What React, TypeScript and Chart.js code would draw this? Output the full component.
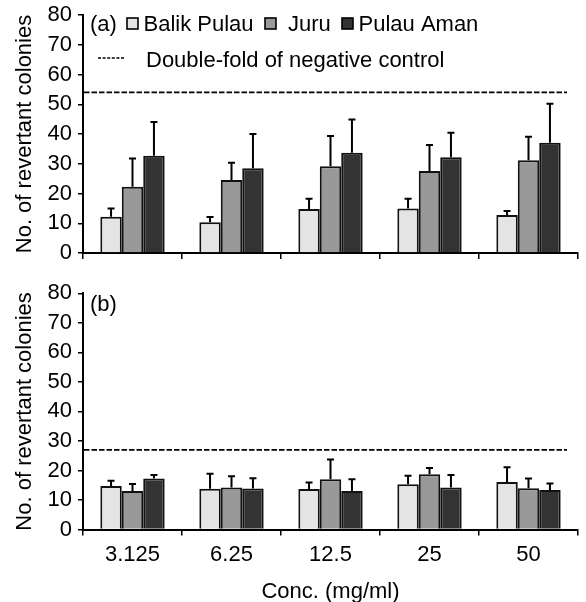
import React, { useEffect, useRef } from "react";
import { Chart, registerables } from "chart.js";

Chart.register(...registerables);

const FONT = "'Liberation Sans', Arial, Helvetica, sans-serif";

const categories = ["3.125", "6.25", "12.5", "25", "50"];
const seriesNames = ["Balik Pulau", "Juru", "Pulau Aman"];
const seriesColors = ["#e4e4e4", "#999999", "#333333"];

// Panel (a)
const aBalikPulau = [12.2, 10.3, 14.8, 15.0, 12.8];
const aBalikPulauSD = [2.8, 1.8, 3.4, 3.2, 1.3];
const aJuru = [22.3, 24.5, 29.2, 27.6, 31.2];
const aJuruSD = [9.5, 5.8, 10.1, 8.7, 7.9];
const aPulauAman = [32.7, 28.5, 33.7, 32.2, 37.1];
const aPulauAmanSD = [11.3, 11.5, 11.2, 8.2, 13.1];
const aThreshold = 54;

// Panel (b)
const bBalikPulau = [14.7, 13.8, 13.7, 15.3, 16.1];
const bBalikPulauSD = [1.8, 5.1, 2.2, 2.9, 5.0];
const bJuru = [13.0, 14.2, 17.0, 18.7, 14.0];
const bJuruSD = [2.4, 3.8, 6.7, 2.1, 3.3];
const bPulauAman = [17.3, 13.9, 13.0, 14.2, 13.4];
const bPulauAmanSD = [1.2, 3.5, 4.0, 4.3, 2.2];
const bThreshold = 27;

const yTicksMin = 0;
const yTicksMax = 80;
const yTickStep = 10;

const yTitle = "No. of revertant colonies";
const xTitle = "Conc. (mg/ml)";
const thresholdLabel = "Double-fold of negative control";

const errorBarPlugin = {
  id: "errorBars",
  afterDatasetsDraw(chart: any, _args: any, opts: any) {
    const { ctx } = chart;
    const y = chart.scales.y;
    const errs: number[][] = opts.errors || [];
    chart.data.datasets.forEach((ds: any, i: number) => {
      const meta = chart.getDatasetMeta(i);
      meta.data.forEach((bar: any, j: number) => {
        const v = ds.data[j];
        const e = errs[i] ? errs[i][j] : 0;
        const base = y.getPixelForValue(v);
        const top = y.getPixelForValue(v + e);
        ctx.save();
        ctx.strokeStyle = "#000";
        ctx.lineWidth = 2;
        ctx.beginPath();
        ctx.moveTo(bar.x, base);
        ctx.lineTo(bar.x, top);
        ctx.moveTo(bar.x - 3.5, top);
        ctx.lineTo(bar.x + 3.5, top);
        ctx.stroke();
        ctx.restore();
      });
    });
  },
};

const thresholdPlugin = {
  id: "threshold",
  afterDraw(chart: any, _args: any, opts: any) {
    const { ctx, chartArea } = chart;
    const y = chart.scales.y.getPixelForValue(opts.value);
    ctx.save();
    ctx.strokeStyle = "#000";
    ctx.lineWidth = 1.8;
    ctx.setLineDash([5.5, 2]);
    ctx.beginPath();
    ctx.moveTo(chartArea.left + 1, y);
    ctx.lineTo(chartArea.right - 11, y);
    ctx.stroke();
    ctx.restore();
  },
};

const panelLabelPlugin = {
  id: "panelLabel",
  afterDraw(chart: any, _args: any, opts: any) {
    const { ctx } = chart;
    ctx.save();
    ctx.fillStyle = "#000";
    ctx.font = `22px ${FONT}`;
    ctx.textBaseline = "alphabetic";
    ctx.textAlign = "left";
    ctx.fillText(opts.text, 90, opts.baseline);
    if (opts.legend) {
      const boxX = [127, 265, 342];
      const textX = [143.5, 288, 358.5];
      seriesNames.forEach((name, i) => {
        ctx.fillStyle = seriesColors[i];
        ctx.fillRect(boxX[i], 18, 11, 11);
        ctx.strokeStyle = "#000";
        ctx.lineWidth = 1.6;
        ctx.strokeRect(boxX[i], 18, 11, 11);
        ctx.fillStyle = "#000";
        ctx.fillText(name, textX[i], opts.baseline);
      });
      ctx.strokeStyle = "#000";
      ctx.lineWidth = 1.5;
      ctx.setLineDash([3, 1.6]);
      ctx.beginPath();
      ctx.moveTo(98, 58);
      ctx.lineTo(125, 58);
      ctx.stroke();
      ctx.setLineDash([]);
      ctx.fillText(thresholdLabel, 146, 66.5);
    }
    ctx.restore();
  },
};

function makeChart(
  canvas: HTMLCanvasElement,
  series: number[][],
  errors: number[][],
  threshold: number,
  label: string,
  bottom: boolean,
  canvasH: number,
  areaTop: number,
  areaBottom: number
) {
  return new Chart(canvas, {
    type: "bar",
    data: {
      labels: categories,
      datasets: series.map((d, i) => ({
        label: seriesNames[i],
        data: d,
        backgroundColor: seriesColors[i],
        borderColor: "#111",
        borderWidth: 2,
        categoryPercentage: 0.65,
        barPercentage: 1.0,
      })),
    },
    options: {
      responsive: false,
      animation: false,
      layout: { padding: { top: areaTop, right: 8, bottom: 0, left: 0 } },
      scales: {
        x: {
          offset: true,
          afterFit: (s: any) => {
            s.height = canvasH - areaBottom;
            s.paddingLeft = 0;
            s.paddingRight = 0;
          },
          grid: {
            display: true,
            drawOnChartArea: false,
            drawTicks: true,
            tickLength: 6,
            offset: true,
            color: "#000",
            lineWidth: 1.5,
          },
          border: { display: true, color: "#000", width: 2 },
          ticks: {
            display: bottom,
            color: "#000",
            font: { size: 22, family: FONT },
            padding: 6,
            maxRotation: 0,
          },
          title: {
            display: bottom,
            text: xTitle,
            color: "#000",
            font: { size: 22, family: FONT },
            padding: { top: 0, bottom: 0 },
          },
        },
        y: {
          min: yTicksMin,
          max: yTicksMax,
          afterFit: (s: any) => {
            s.width = 83;
            s.paddingTop = 0;
            s.paddingBottom = 0;
          },
          ticks: {
            stepSize: yTickStep,
            color: "#000",
            font: { size: 22, family: FONT },
            padding: 6,
          },
          grid: {
            display: true,
            drawOnChartArea: false,
            drawTicks: true,
            tickLength: 5,
            color: "#000",
            lineWidth: 1.5,
          },
          border: { display: true, color: "#000", width: 2 },
          title: {
            display: true,
            text: yTitle,
            color: "#000",
            font: { size: 22, family: FONT },
            padding: { top: 12, bottom: 0 },
          },
        },
      },
      plugins: {
        legend: { display: false },
        tooltip: { enabled: false },
        errorBars: { errors },
        threshold: { value: threshold },
        panelLabel: { text: label, legend: !bottom, baseline: bottom ? 41 : 30.5 },
      } as any,
    },
    plugins: [errorBarPlugin, thresholdPlugin, panelLabelPlugin],
  } as any);
}

export default function App() {
  const topRef = useRef<HTMLCanvasElement>(null);
  const botRef = useRef<HTMLCanvasElement>(null);

  useEffect(() => {
    if (!topRef.current || !botRef.current) return;
    const c1 = makeChart(
      topRef.current,
      [aBalikPulau, aJuru, aPulauAman],
      [aBalikPulauSD, aJuruSD, aPulauAmanSD],
      aThreshold,
      "(a)",
      false,
      268,
      15,
      253
    );
    const c2 = makeChart(
      botRef.current,
      [bBalikPulau, bJuru, bPulauAman],
      [bBalikPulauSD, bJuruSD, bPulauAmanSD],
      bThreshold,
      "(b)",
      true,
      335,
      23.3,
      259.5
    );
    return () => {
      c1.destroy();
      c2.destroy();
    };
  }, []);

  return (
    <div style={{ position: "absolute", left: 0, top: 0, width: 586, height: 602, background: "#fff" }}>
      <canvas
        ref={topRef}
        width={586}
        height={268}
        style={{ position: "absolute", left: 0, top: 0, width: 586, height: 268 }}
      />
      <canvas
        ref={botRef}
        width={586}
        height={335}
        style={{ position: "absolute", left: 0, top: 270, width: 586, height: 335 }}
      />
    </div>
  );
}
